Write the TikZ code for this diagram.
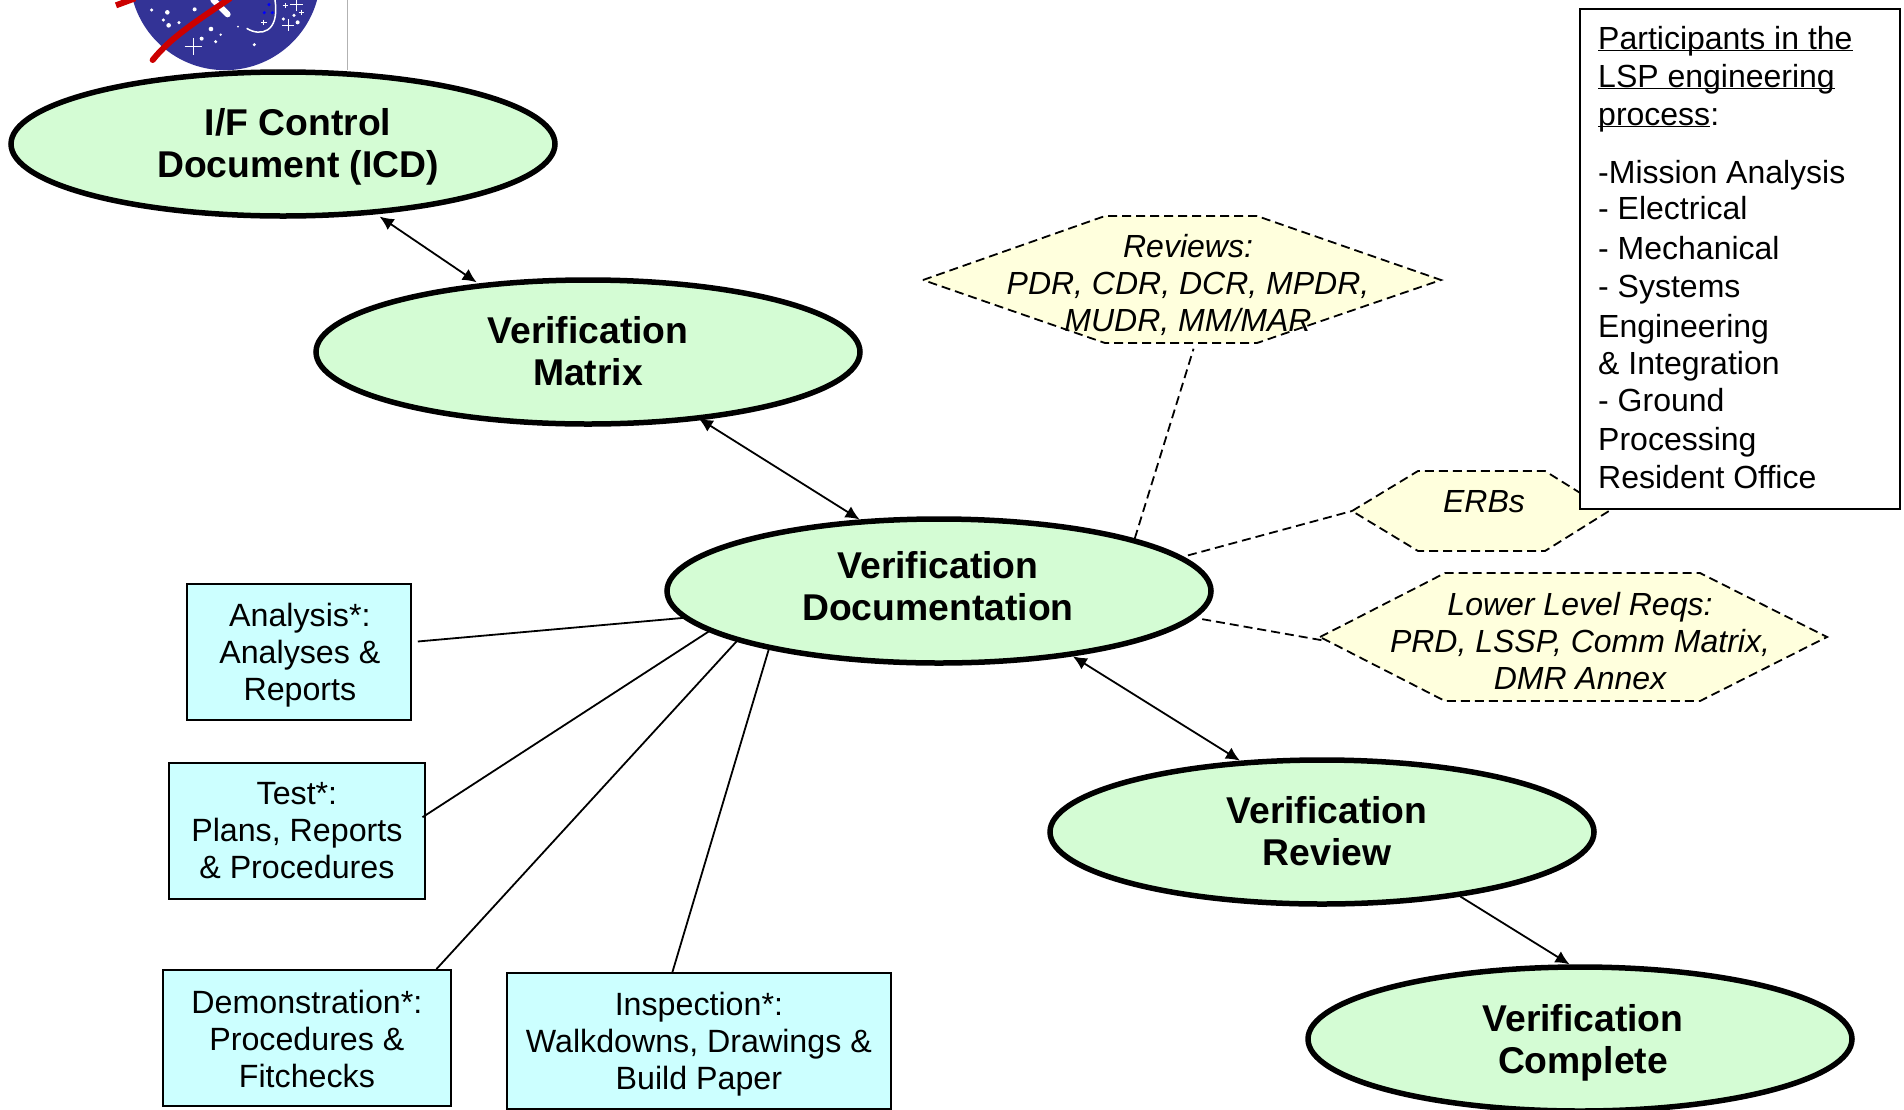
\documentclass[tikz,border=0pt]{standalone}
\usepackage{fontspec}
\setmainfont{Liberation Sans}
\usetikzlibrary{arrows.meta,shapes.geometric}
\newcommand{\uline}[1]{\underline{\smash{#1}}}
\definecolor{bubblegreen}{RGB}{212,252,212}
\definecolor{boxcyan}{RGB}{204,255,255}
\definecolor{hexyellow}{RGB}{255,255,221}
\definecolor{logoblue}{RGB}{51,51,150}
\tikzset{
  bubble/.style={ellipse, draw, line width=5.5pt, fill=bubblegreen, minimum width=544pt, minimum height=144pt, inner sep=0pt},
  bubbletext/.style={inner sep=0pt, align=center, font=\fontsize{37.3}{42.5}\selectfont\bfseries},
  infobox/.style={rectangle, draw, line width=1.8pt, fill=boxcyan, inner sep=0pt, anchor=north west, minimum height=136pt},
  infotext/.style={inner sep=0pt, align=center, font=\fontsize{32.2}{37}\selectfont},
  hexline/.style={draw, dashed, dash pattern=on 9pt off 5pt, line width=1.8pt, fill=hexyellow},
  hextext/.style={rectangle, inner sep=0pt, align=center, font=\fontsize{32}{37}\selectfont\itshape},
  link/.style={line width=1.8pt},
  duallink/.style={line width=1.8pt, {Latex[length=14pt,width=13pt]}-{Latex[length=14pt,width=13pt]}},
  hexlink/.style={line width=1.8pt, dashed, dash pattern=on 9pt off 5pt}
}
\begin{document}
\begin{tikzpicture}[x=1pt,y=-1pt]
\clip (0,0) rectangle (1904,1109);

% logo at the top
\draw [line width=1pt, black!30] (347,0) -- (347,70);
\begin{scope}[shift={(80,0)},x=0.3333pt,y=-0.3333pt]
\fill [logoblue] (435,-76) circle [radius=95.5pt];
\foreach \px/\py/\pr in {215/30/1.7, 262/37/2.3, 250/60/1.7, 266/76/2.3, 297/68/1.7, 344/28/2, 393/87/2.3, 365/116/2, 407/125/1.7, 422/104/1.3, 474/80/1, 523/134/1.7, 642/46/1.7, 653/67/2, 610/57/1.7}
  \fill [white] (\px,\py) circle [radius=\pr pt];
\foreach \px/\py/\ps in {340/140/26, 625/75/18, 650/12/20, 616/17/8, 664/37/8, 552/67/8}
  \draw [white, line width=1pt] (\px-\ps,\py) -- (\px+\ps,\py) (\px,\py-\ps) -- (\px,\py+\ps);
\foreach \px/\py in {567/14, 553/38, 577/38}
  \fill [blue] (\px,\py) circle [radius=1.7pt];
\draw [white, line width=1.5pt] (500,85) .. controls (540,110) and (600,100) .. (585,0);
\draw [white, line width=6pt, line cap=round] (400,0) -- (443,43);
\draw [red!80!black, line width=6pt, line cap=round] (218,180) .. controls (270,115) and (340,70) .. (450,-5);
\draw [red!80!black, line width=6pt] (108,16) -- (165,-5);
\end{scope}

% main chain
\node (icd) [bubble] at (283,144) {};
\node (icdtext) [bubbletext] at ([xshift=15pt,yshift=-3pt]icd.center) {I/F Control\\Document (ICD)};
\node (matrix) [bubble] at (588,352) {};
\node (matrixtext) [bubbletext] at ([yshift=1pt]matrix.center) {Verification\\Matrix};
\node (doc) [bubble] at (939,591) {};
\node (doctext) [bubbletext] at ([xshift=-1pt,yshift=5pt]doc.center) {Verification\\Documentation};
\node (review) [bubble] at (1322,832) {};
\node (reviewtext) [bubbletext] at ([xshift=5pt,yshift=1pt]review.center) {Verification\\Review};
\node (complete) [bubble] at (1580,1039) {};
\node (completetext) [bubbletext] at ([xshift=3pt,yshift=-4pt]complete.center) {Verification\\Complete};

\draw [duallink, shorten <=4pt, shorten >=2pt] (icd.-37) -- (matrix.148);
\draw [duallink, shorten <=-3pt] (matrix.-31) -- (doc.138);
\draw [duallink] (doc.-26) -- (review.139);
\draw [link, -{Latex[length=14pt,width=13pt]}] (review.-25.5) -- (complete.98);

% verification methods
\node (analysis) [infobox, minimum width=224pt] at (186,583) {};
\node (analysistext) [infotext] at ([xshift=1pt,yshift=-3pt]analysis.center) {Analysis*:\\Analyses \&\\Reports};
\node (test) [infobox, minimum width=256pt] at (168,762) {};
\node (testtext) [infotext] at (test.center) {Test*:\\Plans, Reports\\\& Procedures};
\node (demo) [infobox, minimum width=288pt] at (162,969) {};
\node (demotext) [infotext] at ([yshift=-1pt]demo.center) {Demonstration*:\\Procedures \&\\Fitchecks};
\node (inspection) [infobox, minimum width=384pt] at (506,972) {};
\node (inspectiontext) [infotext] at ([yshift=-3pt]inspection.center) {Inspection*:\\Walkdowns, Drawings \&\\Build Paper};

\draw [link, shorten >=6pt] (doc.186) -- (analysis.5);
\draw [link, shorten >=-4pt] (doc.190) -- (test.7);
\draw [link] (doc.194) -- (demo.28);
\draw [link] (doc.199) -- (inspection.111);

% inputs
\draw [hexline] (923,280) -- (1105,216) -- (1257,216) -- (1441,280) -- (1257,343) -- (1105,343) -- cycle;
\node (reviews) [hextext, minimum width=518pt, minimum height=127pt] at (1188,285) {Reviews:\\PDR, CDR, DCR, MPDR,\\MUDR, MM/MAR};
\draw [hexline] (1352,511) -- (1418,471) -- (1545,471) -- (1609,511) -- (1545,551) -- (1418,551) -- cycle;
\coordinate (erbstip) at (1352,511);
\node (erbs) [hextext, minimum width=257pt, minimum height=80pt] at (1484,502) {ERBs};
\draw [hexline] (1320,637) -- (1445,573) -- (1700,573) -- (1827,637) -- (1700,701) -- (1445,701) -- cycle;
\node (lower) [hextext, minimum width=507pt, minimum height=128pt] at (1580,641) {Lower Level Reqs:\\PRD, LSSP, Comm Matrix,\\DMR Annex};

\draw [hexlink] (doc.15) -- (reviews.-85);
\draw [hexlink, shorten <=5pt] (doc.8) -- (erbstip);
\draw [hexlink, shorten <=7pt] (doc.-6) -- (lower.west);

% participants
\node (participants) [rectangle, draw, line width=2.2pt, fill=white, minimum width=320pt, minimum height=500pt, anchor=north west] at (1579,8) {};
\node (partlist) [anchor=north west, inner sep=0pt, align=left, font=\fontsize{32}{38}\selectfont] at (1598,49) {\uline{Participants in the}\\\uline{LSP engineering}\\\uline{process}:\\[20pt]-Mission Analysis\\[-2pt]- Electrical\\[2pt]- Mechanical\\- Systems\\[2pt]Engineering\\[-1pt]\& Integration\\[-1pt]- Ground\\[1pt]Processing\\Resident Office};
\end{tikzpicture}
\end{document}
